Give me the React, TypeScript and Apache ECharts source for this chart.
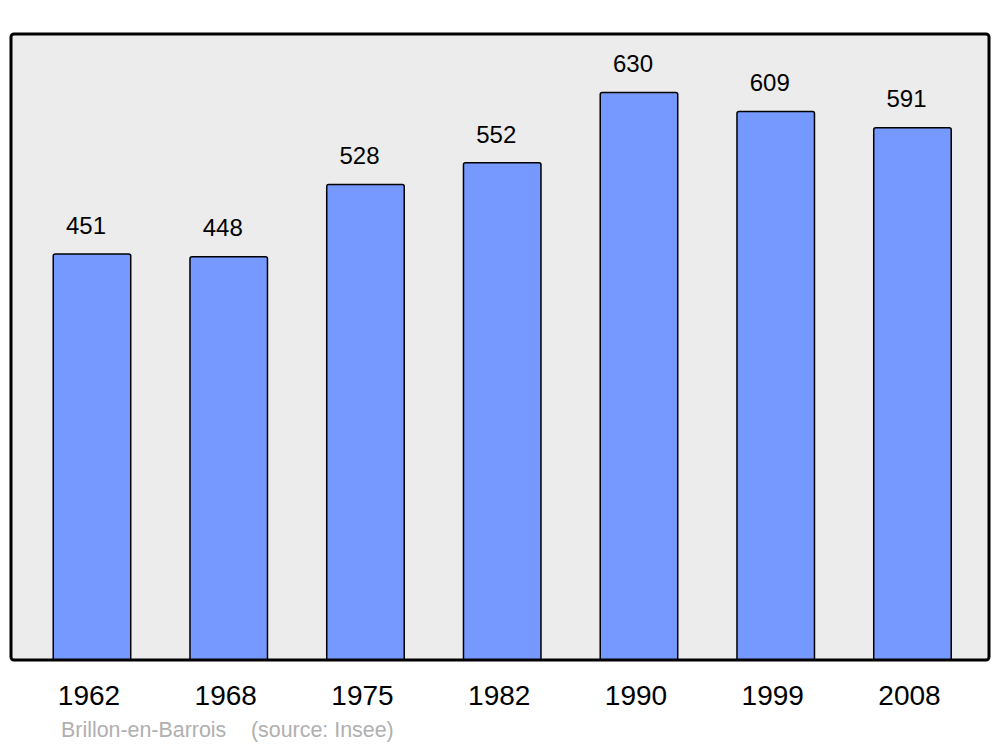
import React, { useEffect, useRef } from "react";
import * as echarts from "echarts";

const years = ["1962", "1968", "1975", "1982", "1990", "1999", "2008"];
const population = [451, 448, 528, 552, 630, 609, 591];
const placeName = "Brillon-en-Barrois";
const sourceText = "(source: Insee)";

export default function App() {
  const ref = useRef<HTMLDivElement>(null);
  useEffect(() => {
    if (!ref.current) return;
    const chart = echarts.init(ref.current, null, { renderer: "svg" });
    chart.setOption({
      animation: false,
      backgroundColor: "#ffffff",
      textStyle: { fontFamily: "Liberation Sans, Arial, sans-serif" },
      graphic: [
        {
          type: "rect",
          z: -10,
          shape: { x: 11, y: 34, width: 978, height: 626, r: 3 },
          style: { fill: "#ececec", stroke: "#000000", lineWidth: 3 },
        },
        {
          type: "text",
          x: 61,
          y: 730,
          style: {
            text: placeName,
            fill: "#b0b0b0",
            font: "21.4px 'Liberation Sans', Arial, sans-serif",
            textVerticalAlign: "middle",
          },
        },
        {
          type: "text",
          x: 251,
          y: 730,
          style: {
            text: sourceText,
            fill: "#b0b0b0",
            font: "21.4px 'Liberation Sans', Arial, sans-serif",
            textVerticalAlign: "middle",
          },
        },
      ],
      grid: { left: 23.6, width: 957.25, top: 34, bottom: 87, containLabel: false },
      xAxis: {
        type: "category",
        data: years,
        axisLine: { show: false },
        axisTick: { show: false },
        axisLabel: {
          fontSize: 28,
          color: "#000000",
          margin: 21,
          padding: [0, 6, 0, 0],
          fontFamily: "Liberation Sans, Arial, sans-serif",
        },
      },
      yAxis: {
        type: "value",
        min: 0,
        max: 694,
        show: false,
        splitLine: { show: false },
      },
      series: [
        {
          type: "bar",
          data: population,
          barWidth: 79,
          itemStyle: {
            color: "#7599ff",
            borderColor: "#000000",
            borderWidth: 1.5,
            borderRadius: [2, 2, 0, 0],
          },
          label: {
            show: true,
            position: "top",
            distance: 16,
            offset: [-6, 0],
            fontSize: 24,
            color: "#000000",
            fontFamily: "Liberation Sans, Arial, sans-serif",
          },
        },
      ],
    });
    return () => chart.dispose();
  }, []);
  return <div ref={ref} style={{ width: 1000, height: 747, position: "absolute", left: 0, top: 0 }} />;
}
